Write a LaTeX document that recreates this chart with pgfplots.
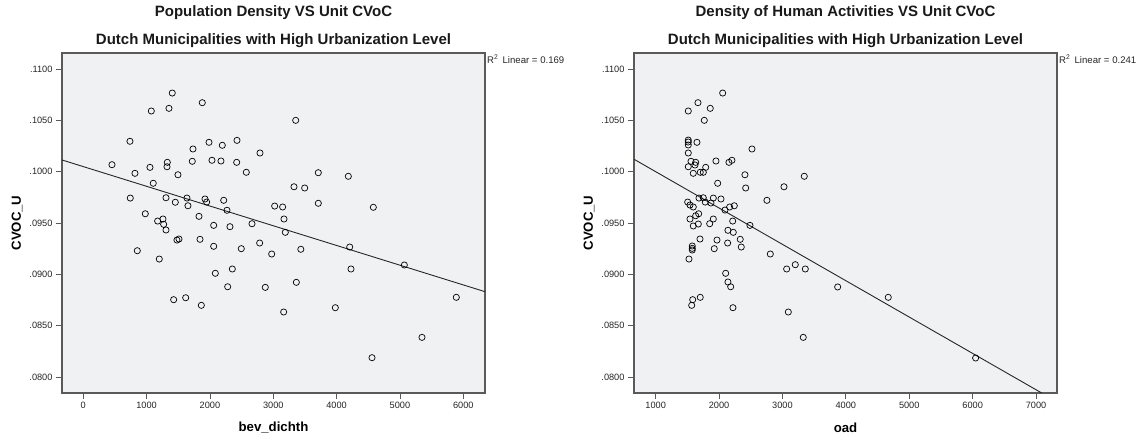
\documentclass[border=0pt]{standalone}
\usepackage{fontspec}
\setmainfont{Liberation Sans}
\usepackage{pgfplots}
\usepackage{pgfplotstable}
\pgfplotsset{compat=1.18}

\definecolor{plotbg}{RGB}{240,241,243}
\definecolor{framegray}{RGB}{90,90,90}

% population density (bev_dichth) against unit CVoC
\pgfplotstableread{
x y
1405 .10766
1879 .10672
1074 .10591
1353 .10617
3354 .10500
737 .10296
1985 .10286
2195 .10257
2427 .10305
1732 .10221
2790 .10182
453 .10068
1327 .10091
1322 .10048
1053 .10042
1721 .10101
2032 .10111
2174 .10104
2422 .10091
816 .09984
1495 .09970
2574 .09994
1105 .09887
3327 .09853
3496 .09841
742 .09743
1306 .09746
1453 .09702
1637 .09743
1653 .09668
1922 .09734
1948 .09704
2217 .09721
2269 .09624
3022 .09665
3148 .09656
3169 .09539
979 .09590
1258 .09539
1174 .09519
1269 .09487
1306 .09432
1827 .09565
2059 .09477
2316 .09464
2664 .09493
3190 .09409
1479 .09334
1511 .09344
1843 .09341
2059 .09273
2495 .09250
2785 .09305
2975 .09198
3435 .09244
853 .09230
1200 .09149
2085 .09010
2353 .09052
2280 .08879
2874 .08873
3364 .08922
1427 .08753
1617 .08772
1864 .08698
3164 .08633
3711 .09990
4185 .09955
3711 .09692
4580 .09653
4207 .09266
4227 .09052
5069 .09091
3980 .08675
5890 .08776
5348 .08386
4559 .08188
}\densdata

% density of human activities (oad) against unit CVoC
\pgfplotstableread{
x y
2057 .10766
1667 .10672
1514 .10591
1861 .10617
1767 .10500
1514 .10308
1514 .10289
1514 .10260
1651 .10286
2519 .10221
1514 .10182
1557 .10101
1631 .10091
1620 .10065
1514 .10048
1789 .10042
1951 .10104
2156 .10091
2203 .10111
1593 .09984
1703 .09994
1751 .09994
2408 .09970
3344 .09955
1978 .09887
2420 .09841
3024 .09853
2755 .09721
1505 .09704
1541 .09675
1593 .09656
1683 .09743
1751 .09746
1782 .09704
1872 .09695
1909 .09743
2030 .09734
2093 .09626
2167 .09656
2240 .09668
1678 .09590
1631 .09571
1541 .09539
1593 .09471
1672 .09490
1852 .09493
1909 .09539
2215 .09519
2487 .09477
2140 .09429
2224 .09409
1699 .09344
1967 .09334
2334 .09341
2135 .09305
1924 .09250
2350 .09266
1577 .09276
1577 .09253
1577 .09237
1525 .09149
2808 .09198
3066 .09052
3202 .09094
3360 .09052
3871 .08877
2104 .09010
2140 .08925
2183 .08879
1584 .08753
1703 .08776
1568 .08698
2219 .08675
3092 .08633
3328 .08386
4669 .08776
6047 .08185
}\oaddata

\pgfplotsset{
  spss/.style={
    scale only axis,
    width=423pt, height=340pt,
    anchor=south west,
    axis background/.style={fill=plotbg},
    axis line style={framegray, line width=1.3pt},
    tick align=outside, tick pos=left,
    major tick length=6pt,
    every tick/.style={framegray, line width=0.8pt},
    ymin=0.07844, ymax=0.11156,
    ytick={0.08,0.085,0.09,0.095,0.10,0.105,0.11},
    yticklabels={.0800,.0850,.0900,.0950,.1000,.1050,.1100},
    scaled ticks=false,
    /pgf/number format/assume math mode=true,
    /pgf/number format/1000 sep={},
    ticklabel style={font=\fontsize{9.2}{11}\selectfont, text=black!85},
    ylabel={CVOC\_U},
    y label style={at={(axis description cs:-0.106,0.5)}, anchor=center,
      font=\bfseries\fontsize{13.2}{16}\selectfont},
    x label style={at={(axis description cs:0.5,-0.103)}, anchor=center,
      font=\bfseries\fontsize{13.2}{16}\selectfont},
    scatter/.style={only marks, mark=o, mark size=3.1pt,
      mark options={black, line width=0.7pt}},
    fitline/.style={no marks, black!85, line width=0.9pt},
  },
}

\begin{document}
\begin{tikzpicture}
\path[use as bounding box] (0,0) rectangle (1137pt,440pt);

\begin{axis}[spss, at={(62pt,47pt)},
  xmin=-336, xmax=6343,
  xtick={0,1000,2000,3000,4000,5000,6000},
  xlabel={bev\_dichth}]
  \addplot[scatter] table {\densdata};
  \addplot[fitline] coordinates {(-336,0.10114) (6343,0.08831)};
\end{axis}

\begin{axis}[spss, at={(634pt,47pt)},
  xmin=658, xmax=7331,
  xtick={1000,2000,3000,4000,5000,6000,7000},
  xlabel={oad}]
  \addplot[scatter] table {\oaddata};
  \addplot[fitline] coordinates {(658,0.10121) (7090,0.07844)};
\end{axis}

\begin{scope}[every node/.style={font=\bfseries\fontsize{15}{18}\selectfont, text=black!90}]
  \node at (273.5pt,427pt) {Population Density VS Unit CVoC};
  \node at (273.5pt,399pt) {Dutch Municipalities with High Urbanization Level};
  \node at (845.5pt,427pt) {Density of Human Activities VS Unit CVoC};
  \node at (845.5pt,399pt) {Dutch Municipalities with High Urbanization Level};
\end{scope}

\begin{scope}[every node/.style={font=\fontsize{9.6}{11}\selectfont, anchor=west, inner sep=0pt, text=black!85}]
  \node at (487pt,381pt) {R\textsuperscript{2}\, Linear = 0.169};
  \node at (1059pt,381pt) {R\textsuperscript{2}\, Linear = 0.241};
\end{scope}
\end{tikzpicture}
\end{document}
